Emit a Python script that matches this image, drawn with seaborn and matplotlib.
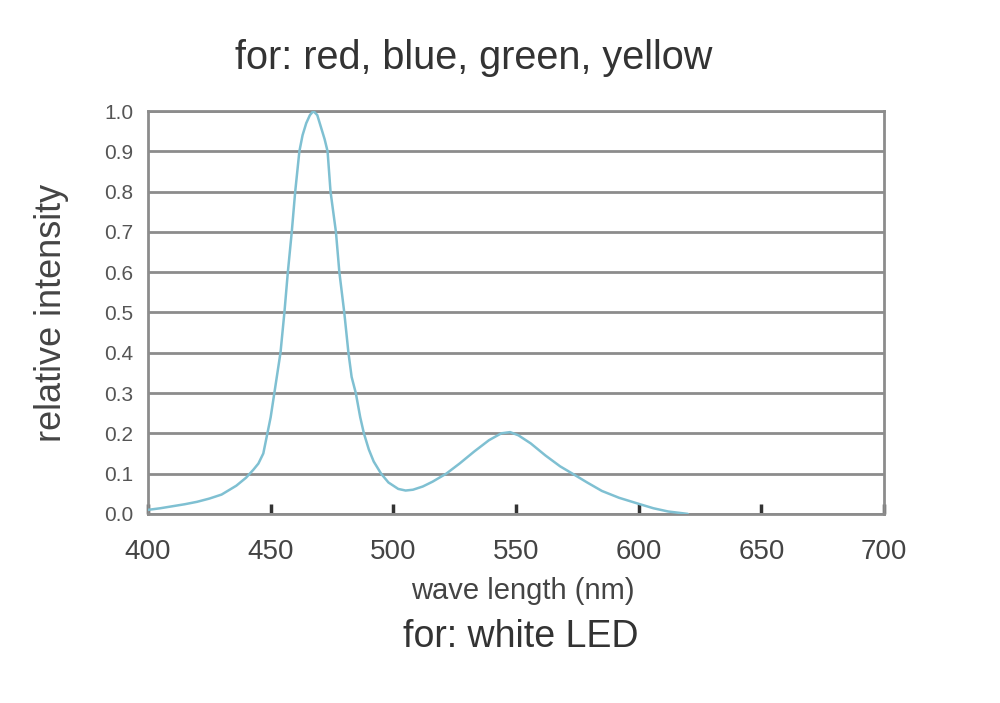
import numpy as np
import pandas as pd
import matplotlib.pyplot as plt
import seaborn as sns

# Spectrum
wavelength = [400, 405, 410, 415, 420, 425, 430, 436, 440, 443, 445, 447, 448, 450,
              451.5, 453, 454, 455.6, 457, 458.6, 460, 461.7, 463, 464.5, 466, 467.4,
              469, 470.5, 472, 473.2, 474.4, 476.6, 478, 480, 481.7, 483, 484.7, 486.5,
              488, 490, 492, 495, 498, 502, 505, 508, 512, 516, 521.6, 527, 533,
              539, 544, 547.6, 551, 556, 562, 568, 573, 579, 585, 592, 600, 606,
              612, 620]
intensity = [0.01, 0.014, 0.019, 0.024, 0.03, 0.038, 0.048, 0.07, 0.09, 0.11, 0.125,
             0.15, 0.18, 0.24, 0.3, 0.36, 0.4, 0.5, 0.6, 0.7, 0.8, 0.9, 0.94, 0.97,
             0.99, 1.0, 0.99, 0.96, 0.93, 0.9, 0.8, 0.7, 0.6, 0.5, 0.4, 0.34, 0.3,
             0.24, 0.2, 0.16, 0.13, 0.1, 0.078, 0.062, 0.058, 0.06, 0.068, 0.08, 0.1,
             0.125, 0.155, 0.183, 0.2, 0.203, 0.195, 0.175, 0.145, 0.118, 0.1,
             0.078, 0.057, 0.04, 0.025, 0.014, 0.006, 0.0]
x_ticks = [400, 450, 500, 550, 600, 650, 700]
y_ticks = [0.0, 0.1, 0.2, 0.3, 0.4, 0.5, 0.6, 0.7, 0.8, 0.9, 1.0]


def main():
    sns.set_style("white")
    plt.rcParams['font.family'] = ['Liberation Sans', 'DejaVu Sans']
    df = pd.DataFrame({"wl": wavelength, "I": intensity})

    fig = plt.figure(figsize=(10, 7.03), dpi=100)
    ax = fig.add_axes([0.148, 0.269, 0.736, 0.573])

    for y in y_ticks:
        ax.axhline(y, color="#8c8c8c", lw=2, zorder=1)

    sns.lineplot(data=df, x="wl", y="I", color="#7fc0d2", lw=1.8, ax=ax, zorder=3)

    ax.set_xlim(400, 700)
    ax.set_ylim(0, 1.0)
    ax.set_xticks(x_ticks)
    ax.set_yticks(y_ticks)
    ax.set_yticklabels([f"{v:.1f}" for v in y_ticks])
    ax.tick_params(axis="x", bottom=True, direction="in", length=7, width=2.5,
                   color="#333333", labelsize=20, labelcolor="#444444", pad=18)
    ax.tick_params(axis="y", left=False, labelsize=15, labelcolor="#555555", pad=7)
    for s in ax.spines.values():
        s.set_color("#8c8c8c")
        s.set_linewidth(2)

    ax.set_xlabel("wave length (nm)", fontsize=21, color="#444444")
    ax.xaxis.set_label_coords(0.509, -0.157)
    ax.set_ylabel("relative intensity", fontsize=26, color="#444444")
    ax.yaxis.set_label_coords(-0.108, 0.5)

    fig.text(0.474, 0.918, "for: red, blue, green, yellow", fontsize=28.5,
             color="#333333", ha="center", va="center")
    fig.text(0.521, 0.094, "for: white LED", fontsize=27, color="#333333",
             ha="center", va="center")

    plt.savefig("out.png")


if __name__ == "__main__":
    main()
